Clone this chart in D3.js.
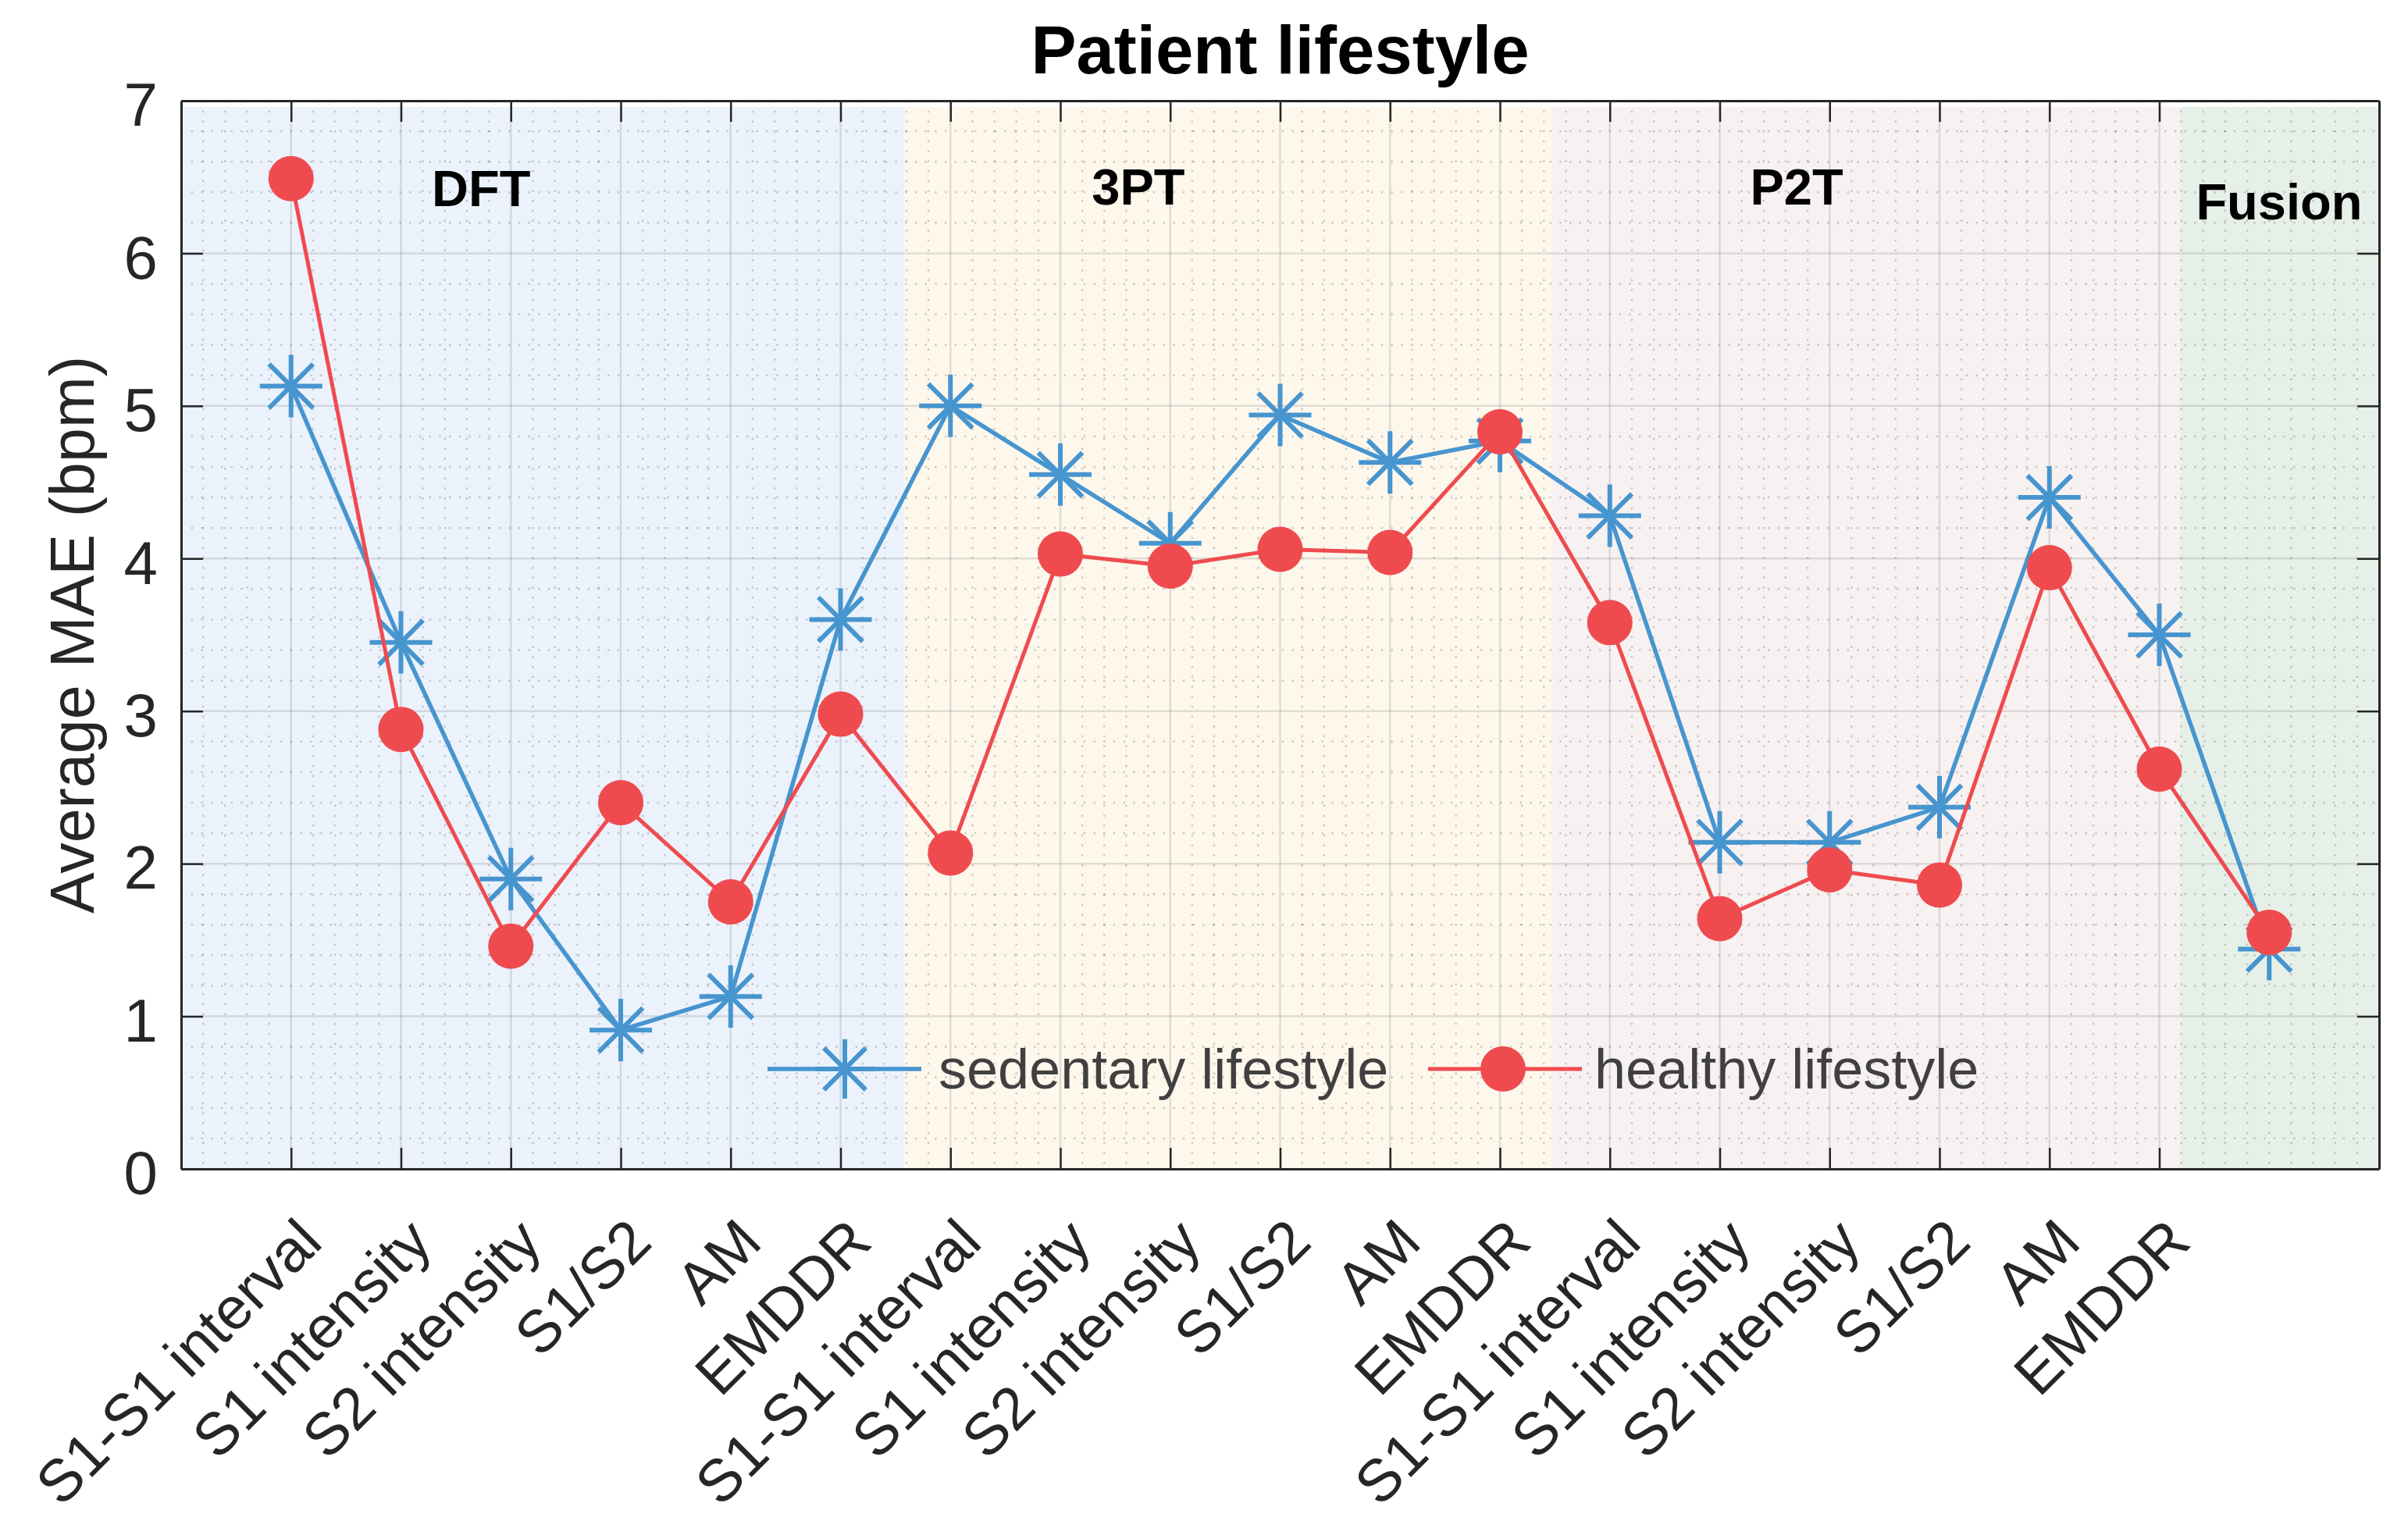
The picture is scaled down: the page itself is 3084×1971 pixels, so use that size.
<!DOCTYPE html>
<html>
<head>
<meta charset="utf-8">
<script src="https://cdn.jsdelivr.net/npm/d3@7"></script>
<style>
  html, body { margin: 0; padding: 0; background: #ffffff; }
  svg { display: block; }
  text { font-family: "Liberation Sans", Arial, Helvetica, sans-serif; }
</style>
</head>
<body>
<svg id="chart" width="3084" height="1971"></svg>
<script>
// ---------------- data ----------------
const title = "Patient lifestyle";
const yLabel = "Average MAE (bpm)";
const categories = [
  "S1-S1 interval", "S1 intensity", "S2 intensity", "S1/S2", "AM", "EMDDR",
  "S1-S1 interval", "S1 intensity", "S2 intensity", "S1/S2", "AM", "EMDDR",
  "S1-S1 interval", "S1 intensity", "S2 intensity", "S1/S2", "AM", "EMDDR"
];
const xPositions = d3.range(1, 20);          // 1..19 (19 = Fusion)
const sedentary = [5.13, 3.45, 1.90, 0.91, 1.13, 3.60, 5.00, 4.55, 4.10, 4.94, 4.63, 4.77, 4.28, 2.14, 2.14, 2.37, 4.40, 3.50, 1.44];
const healthy   = [6.49, 2.88, 1.46, 2.40, 1.75, 2.98, 2.07, 4.03, 3.95, 4.06, 4.04, 4.83, 3.58, 1.64, 1.96, 1.86, 3.94, 2.62, 1.55];
const seriesNames = ["sedentary lifestyle", "healthy lifestyle"];
const yTicks = [0, 1, 2, 3, 4, 5, 6, 7];
const bandNames  = ["DFT", "3PT", "P2T", "Fusion"];
const bandStarts = [0, 6.58, 12.47, 18.19];
const bandEnds   = [6.58, 12.47, 18.19, 20];
const bandLabelX = [2.73, 8.71, 14.70, 19.09];
const bandLabelY = [6.31, 6.32, 6.32, 6.22];

// ---------------- styles / layout ----------------
const bandColors = ["#ebf2fb", "#fdf7ec", "#f7f1f1", "#e6f0e8"];
const blue = "#4795cf";
const red = "#ef4b4f";
const W = 3084, H = 1971;
const L = 232, R = 3047, T = 129, B = 1497;

const svg = d3.select("#chart");
svg.append("rect").attr("width", W).attr("height", H).attr("fill", "#fff");

const x = d3.scaleLinear().domain([0, 20]).range([L, R]);
const y = d3.scaleLinear().domain([0, 7]).range([B, T]);

// bands
const bands = bandNames.map((n, i) => ({ name: n, x0: bandStarts[i], x1: bandEnds[i], color: bandColors[i], lx: bandLabelX[i], ly: bandLabelY[i] }));
svg.append("g").selectAll("rect").data(bands).join("rect")
  .attr("x", d => x(d.x0))
  .attr("width", d => x(d.x1) - x(d.x0))
  .attr("y", y(6.96))
  .attr("height", y(0) - y(6.96))
  .attr("fill", d => d.color);

// minor grid (dotted)
const minorX = d3.range(0, 100).map(i => i * 0.2).filter(v => v > 0 && v < 20 && !(Math.abs(v - Math.round(v)) < 1e-6 && Math.round(v) >= 1 && Math.round(v) <= 18));
const minorY = d3.range(0, 35).map(i => i * 0.2).filter(v => v > 0 && v < 7 && Math.abs(v - Math.round(v)) > 1e-6);
const grid = svg.append("g");
grid.selectAll("line.mx").data(minorX).join("line").attr("class", "mx")
  .attr("x1", d => x(d)).attr("x2", d => x(d)).attr("y1", T).attr("y2", B)
  .attr("stroke", "#000").attr("stroke-opacity", 0.18).attr("stroke-width", 2.5)
  .attr("stroke-dasharray", "2.5,10.2");
grid.selectAll("line.my").data(minorY).join("line").attr("class", "my")
  .attr("x1", L).attr("x2", R).attr("y1", d => y(d)).attr("y2", d => y(d))
  .attr("stroke", "#000").attr("stroke-opacity", 0.18).attr("stroke-width", 2.5)
  .attr("stroke-dasharray", "2.5,10.2");
// major grid
grid.selectAll("line.Mx").data(d3.range(1, 19)).join("line").attr("class", "Mx")
  .attr("x1", d => x(d)).attr("x2", d => x(d)).attr("y1", T).attr("y2", B)
  .attr("stroke", "#262626").attr("stroke-opacity", 0.13).attr("stroke-width", 2.5);
grid.selectAll("line.My").data(yTicks.filter(v => v > 0 && v < 7)).join("line").attr("class", "My")
  .attr("x1", L).attr("x2", R).attr("y1", d => y(d)).attr("y2", d => y(d))
  .attr("stroke", "#262626").attr("stroke-opacity", 0.13).attr("stroke-width", 2.5);

// band labels
svg.append("g").selectAll("text").data(bands).join("text")
  .attr("x", d => x(d.lx)).attr("y", d => y(d.ly))
  .attr("text-anchor", "middle")
  .attr("font-size", 65).attr("font-weight", "bold").attr("fill", "#000")
  .text(d => d.name);

// axes
const axColor = "#262626";
const xAxisB = d3.axisBottom(x).tickValues(d3.range(1, 19)).tickSizeInner(-27).tickSizeOuter(0).tickFormat("");
const xAxisT = d3.axisTop(x).tickValues(d3.range(1, 19)).tickSizeInner(-27).tickSizeOuter(0).tickFormat("");
const yAxisL = d3.axisLeft(y).tickValues(yTicks).tickSizeInner(-28).tickSizeOuter(0).tickFormat("");
const yAxisR = d3.axisRight(y).tickValues(yTicks).tickSizeInner(-28).tickSizeOuter(0).tickFormat("");
function styleAxis(g) {
  g.selectAll("path").attr("stroke", axColor).attr("stroke-width", 3);
  g.selectAll("line").attr("stroke", axColor).attr("stroke-width", 2.5);
}
svg.append("g").attr("transform", `translate(0,${B})`).call(xAxisB).call(styleAxis);
svg.append("g").attr("transform", `translate(0,${T})`).call(xAxisT).call(styleAxis);
svg.append("g").attr("transform", `translate(${L},0)`).call(yAxisL).call(styleAxis);
svg.append("g").attr("transform", `translate(${R},0)`).call(yAxisR).call(styleAxis);

// y tick labels
svg.append("g").selectAll("text").data(yTicks).join("text")
  .attr("x", L - 30).attr("y", d => y(d) + 5)
  .attr("dy", "0.35em")
  .attr("text-anchor", "end")
  .attr("font-size", 78).attr("fill", axColor)
  .text(d => d);

// x tick labels (rotated)
svg.append("g").selectAll("text").data(categories).join("text")
  .attr("transform", (d, i) => `translate(${x(i + 1) + 43},${B + 97}) rotate(-45)`)
  .attr("text-anchor", "end")
  .attr("font-size", 76).attr("fill", axColor)
  .text(d => d);

// y label
svg.append("text")
  .attr("transform", `translate(120,${(T + B) / 2}) rotate(-90)`)
  .attr("text-anchor", "middle")
  .attr("font-size", 79).attr("fill", axColor)
  .text(yLabel);

// title
svg.append("text")
  .attr("x", (L + R) / 2).attr("y", 94)
  .attr("text-anchor", "middle")
  .attr("font-size", 87).attr("font-weight", "bold").attr("fill", "#000")
  .text(title);

// series
const sedData = xPositions.map((xv, i) => ({ x: xv, y: sedentary[i] }));
const heaData = xPositions.map((xv, i) => ({ x: xv, y: healthy[i] }));
const line = d3.line().x(d => x(d.x)).y(d => y(d.y));

function asteriskPath(r) {
  const k = r / Math.SQRT2;
  return `M${-r},0L${r},0M0,${-r}L0,${r}M${-k},${-k}L${k},${k}M${-k},${k}L${k},${-k}`;
}

svg.append("path").datum(sedData).attr("d", line)
  .attr("fill", "none").attr("stroke", blue).attr("stroke-width", 5.5).attr("stroke-linejoin", "round");
svg.append("g").selectAll("path").data(sedData).join("path")
  .attr("transform", d => `translate(${x(d.x)},${y(d.y)})`)
  .attr("d", asteriskPath(40))
  .attr("fill", "none").attr("stroke", blue).attr("stroke-width", 6);

svg.append("path").datum(heaData).attr("d", line)
  .attr("fill", "none").attr("stroke", red).attr("stroke-width", 5).attr("stroke-linejoin", "round");
svg.append("g").selectAll("circle").data(heaData).join("circle")
  .attr("cx", d => x(d.x)).attr("cy", d => y(d.y)).attr("r", 29)
  .attr("fill", red);

// legend
const legY = 1369;
const leg = svg.append("g");
leg.append("line").attr("x1", 983).attr("x2", 1180).attr("y1", legY).attr("y2", legY)
  .attr("stroke", blue).attr("stroke-width", 5.5);
leg.append("path").attr("transform", `translate(1082,${legY})`).attr("d", asteriskPath(38))
  .attr("fill", "none").attr("stroke", blue).attr("stroke-width", 6);
leg.append("text").attr("x", 1202).attr("y", legY).attr("dy", "0.35em")
  .attr("font-size", 72).attr("fill", "#404040").text(seriesNames[0]);
leg.append("line").attr("x1", 1829).attr("x2", 2026).attr("y1", legY).attr("y2", legY)
  .attr("stroke", red).attr("stroke-width", 5);
leg.append("circle").attr("cx", 1925).attr("cy", legY).attr("r", 29).attr("fill", red);
leg.append("text").attr("x", 2042).attr("y", legY).attr("dy", "0.35em")
  .attr("font-size", 72).attr("fill", "#404040").text(seriesNames[1]);
</script>
</body>
</html>
